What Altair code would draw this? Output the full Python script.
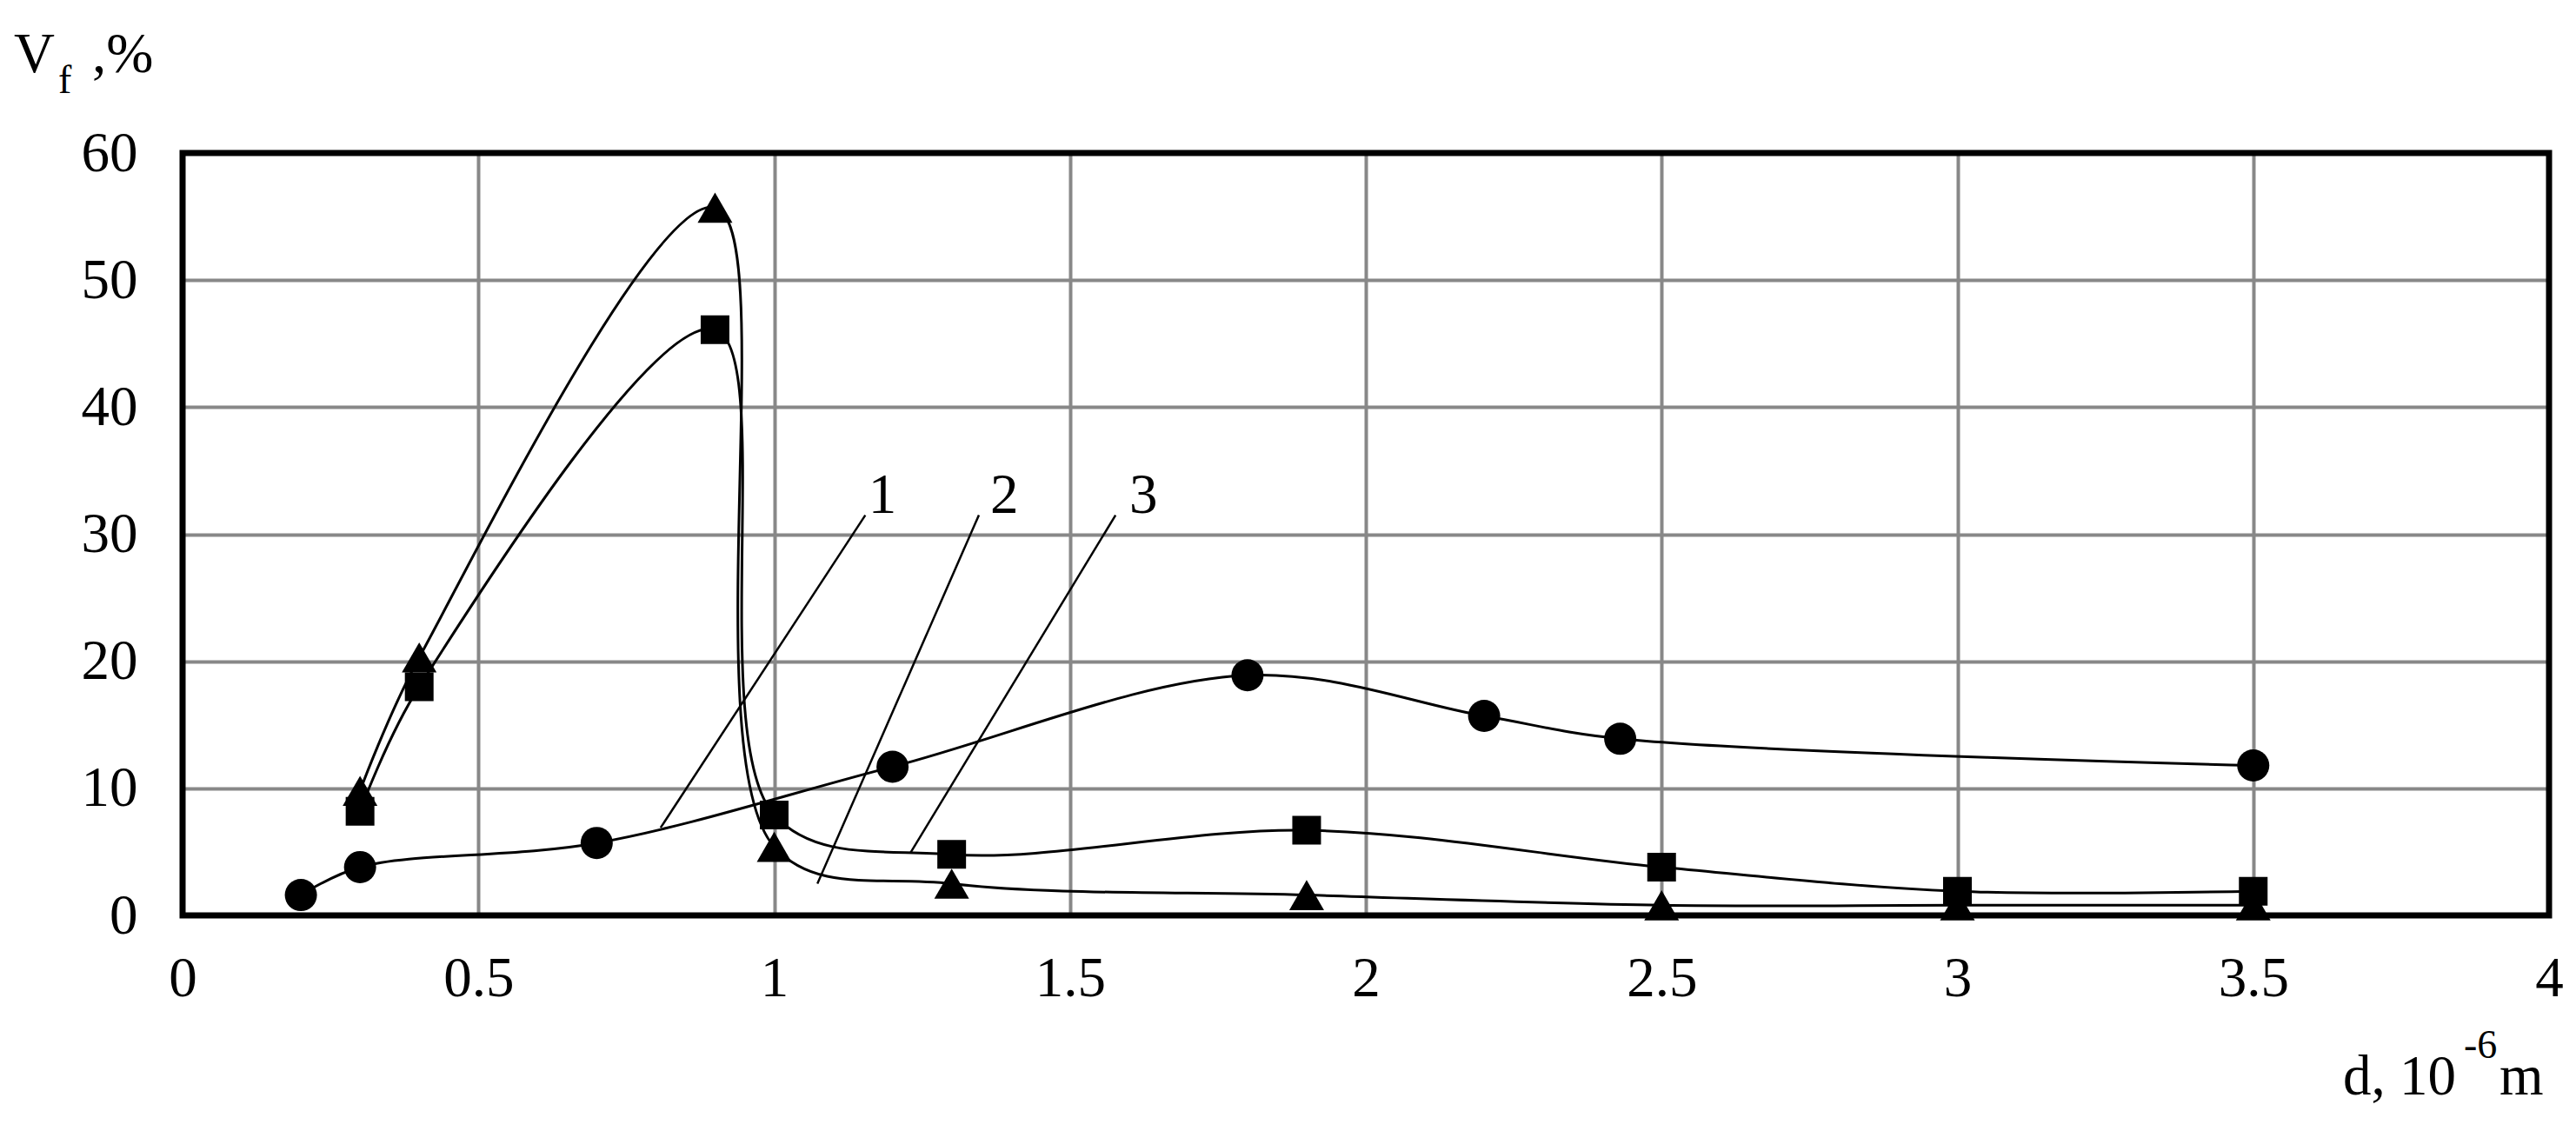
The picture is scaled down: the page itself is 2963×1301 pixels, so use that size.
import altair as alt
import pandas as pd

# ---- data ----
x_circ = [0.2, 0.3, 0.7, 1.2, 1.8, 2.2, 2.43, 3.5]
y_circ = [1.6, 3.8, 5.7, 11.7, 18.9, 15.7, 13.9, 11.8]

x_tri = [0.3, 0.4, 0.9, 1.0, 1.3, 1.9, 2.5, 3.0, 3.5]
y_tri = [9.8, 20.3, 55.7, 5.4, 2.5, 1.6, 0.8, 0.8, 0.8]

x_sq = [0.3, 0.4, 0.9, 1.0, 1.3, 1.9, 2.5, 3.0, 3.5]
y_sq = [8.2, 18.0, 46.1, 7.9, 4.8, 6.7, 3.8, 1.9, 1.9]

x_ticks = [0, 0.5, 1, 1.5, 2, 2.5, 3, 3.5, 4]
y_ticks = [0, 10, 20, 30, 40, 50, 60]

# curve labels and leader lines (data coordinates)
label_text = ["1", "2", "3"]
label_x = [1.183, 1.389, 1.624]
label_y = [31.7, 31.7, 31.7]
leader_x1 = [1.154, 1.346, 1.577]
leader_y1 = [31.5, 31.5, 31.5]
leader_x2 = [0.808, 1.073, 1.230]
leader_y2 = [6.9, 2.5, 4.9]

FONT = "Liberation Serif"
FS = 65
FS_SMALL = 46
W, H = 2722, 877

circ = pd.DataFrame({"x": x_circ, "y": y_circ})
tri = pd.DataFrame({"x": x_tri, "y": y_tri})
sq = pd.DataFrame({"x": x_sq, "y": y_sq})
labels = pd.DataFrame({"t": label_text, "x": label_x, "y": label_y})
leaders = pd.DataFrame({"x": leader_x1, "y": leader_y1, "x2": leader_x2, "y2": leader_y2})

xs = alt.Scale(domain=[0, 4], nice=False, zero=False)
ys = alt.Scale(domain=[0, 60], nice=False)

xaxis = alt.Axis(values=x_ticks, ticks=False, domain=False, labelPadding=41,
                 labelFont=FONT, labelFontSize=FS, labelColor="black",
                 labelExpr="datum.value + ''",
                 gridColor="#888888", gridWidth=4, gridOpacity=1, title=None,
                 labelFlush=False, labelOverlap=False)
yaxis = alt.Axis(values=y_ticks, ticks=False, domain=False, labelPadding=52,
                 labelFont=FONT, labelFontSize=FS, labelColor="black",
                 labelExpr="datum.value + ''",
                 gridColor="#888888", gridWidth=4, gridOpacity=1, title=None,
                 labelOverlap=False, labelFlush=False)

X = alt.X("x:Q", scale=xs, axis=xaxis)
Y = alt.Y("y:Q", scale=ys, axis=yaxis)


def series(df, shape, size):
    line = alt.Chart(df).mark_line(color="black", strokeWidth=3,
                                   interpolate="catmull-rom").encode(x=X, y=Y)
    pts = alt.Chart(df).mark_point(shape=shape, size=size, filled=True,
                                   color="black", opacity=1).encode(x=X, y=Y)
    return line, pts


l1, p1 = series(circ, "circle", 1369)
l2, p2 = series(tri, "triangle-up", 1600)
l3, p3 = series(sq, "square", 1089)

lead = alt.Chart(leaders).mark_rule(color="black", strokeWidth=2.5).encode(
    x=X, y=Y, x2="x2:Q", y2="y2:Q")

lab = alt.Chart(labels).mark_text(font=FONT, fontSize=FS, color="black",
                                  align="center", baseline="alphabetic").encode(
    x=X, y=Y, text="t:N")

one = pd.DataFrame({"k": [0]})

frame = alt.Chart(one).mark_rect(fill="white", fillOpacity=0, stroke="black",
                                 strokeWidth=7).encode(
    x=alt.value(0), x2=alt.value(W), y=alt.value(0), y2=alt.value(H))


def txt(s, px, py, size):
    return alt.Chart(one).mark_text(
        text=s, font=FONT, fontSize=size, color="black",
        align="left", baseline="alphabetic").encode(
        x=alt.value(px), y=alt.value(py))


titles = [
    txt("V", -194, -93, FS),
    txt("f", -143, -69, FS_SMALL),
    txt(",%", -104, -93, FS),
    txt("d, 10", 2485, 1083, FS),
    txt("-6", 2624, 1041, FS_SMALL),
    txt("m", 2665, 1083, FS),
]

chart = alt.layer(frame, l1, l2, l3, lead, p1, p2, p3, lab, *titles).properties(
    width=W, height=H,
    padding={"left": 202, "top": 168, "right": 20, "bottom": 230},
    autosize=alt.AutoSizeParams(type="none"),
).configure_view(strokeWidth=0).configure(background="white")

chart.save("out.html", embed_options={"renderer": "svg", "actions": False})
